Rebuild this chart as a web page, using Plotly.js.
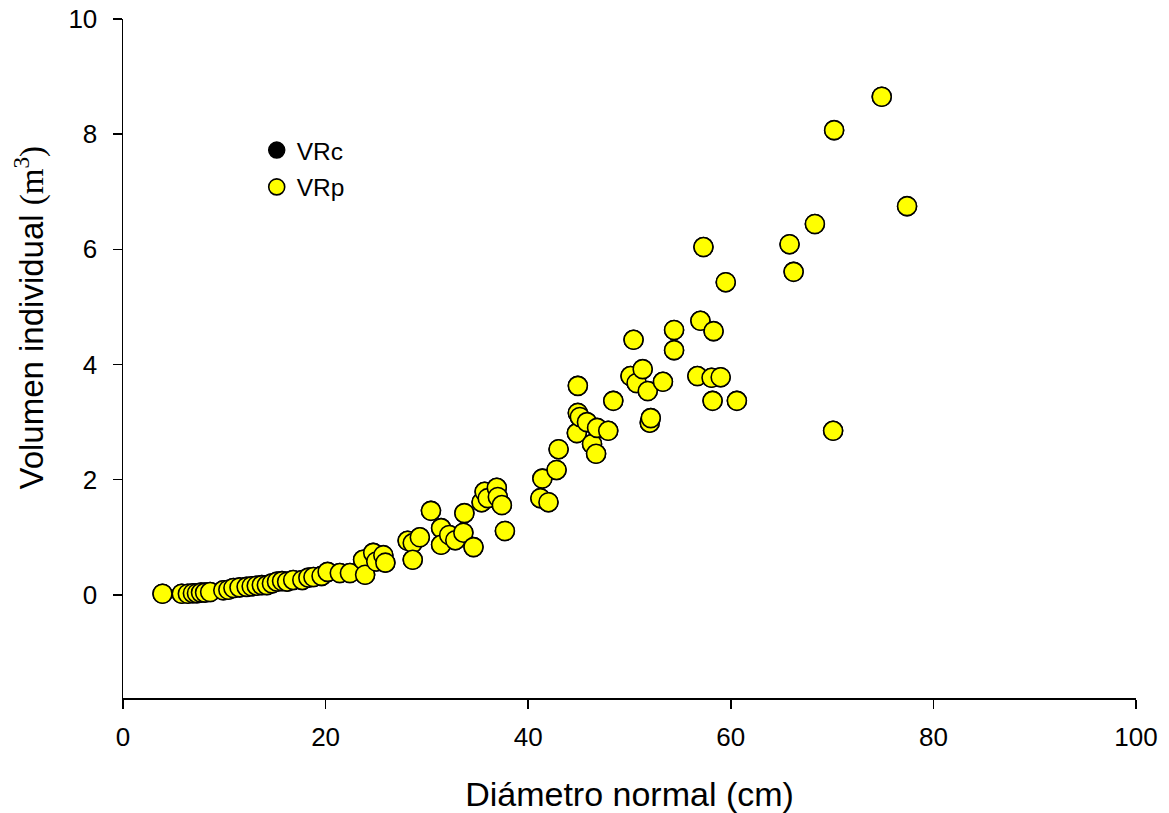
<!DOCTYPE html>
<html>
<head>
<meta charset="utf-8">
<script src="https://cdn.plot.ly/plotly-3.0.1.min.js"></script>
<style>
  html, body { margin: 0; padding: 0; background: #ffffff; }
  #chart { width: 1169px; height: 813px; }
</style>
</head>
<body>
<div id="chart"></div>
<script>
// Diámetro normal (cm) of each tree
const diametro = [
  3.9, 5.8, 6.4, 6.9, 7.3, 7.7, 8.1, 8.6, 9.9, 10.4,
  10.9, 11.5, 12.2, 12.7, 13.2, 13.7, 14.2, 14.7, 15.2, 15.7,
  16.2, 16.8, 17.7, 18.3, 18.8, 19.6, 20.2, 21.4, 22.4, 23.7,
  23.9, 24.7, 25.0, 25.7, 25.9, 28.1, 28.6, 29.3, 28.6, 30.4,
  31.4, 31.4, 32.2, 32.8, 33.6, 33.7, 34.6, 35.4, 35.7, 36.0,
  36.9, 37.0, 37.4, 37.7, 41.2, 41.4, 42.0, 42.8, 43.0, 44.8,
  44.9, 44.9, 45.1, 45.8, 46.3, 46.7, 46.8, 47.9, 48.4, 50.1,
  50.4, 50.7, 51.3, 51.8, 52.0, 52.1, 53.3, 54.4, 54.4, 56.7,
  57.0, 57.3, 58.1, 58.2, 58.3, 59.0, 59.5, 60.6, 65.8, 66.2,
  68.3, 70.1, 70.2, 74.9, 77.4
];

// VRp: volumen individual (m³)
const vrp = [
  0.02, 0.02, 0.02, 0.03, 0.03, 0.04, 0.04, 0.05, 0.08, 0.09,
  0.12, 0.13, 0.14, 0.15, 0.16, 0.17, 0.17, 0.20, 0.23, 0.24,
  0.23, 0.26, 0.26, 0.30, 0.31, 0.33, 0.40, 0.38, 0.38, 0.61,
  0.35, 0.73, 0.58, 0.69, 0.56, 0.94, 0.90, 1.00, 0.61, 1.46,
  1.16, 0.87, 1.04, 0.95, 1.08, 1.42, 0.83, 1.61, 1.79, 1.68,
  1.86, 1.70, 1.56, 1.11, 1.68, 2.02, 1.61, 2.17, 2.53, 2.81,
  3.63, 3.16, 3.09, 3.00, 2.62, 2.45, 2.90, 2.85, 3.37, 3.80,
  4.43, 3.68, 3.92, 3.54, 2.99, 3.07, 3.70, 4.60, 4.25, 3.80,
  4.76, 6.04, 3.77, 3.37, 4.58, 3.78, 5.43, 3.37, 6.09, 5.61,
  6.44, 2.85, 8.07, 8.65, 6.75
];

// VRc: volumen individual (m³), lies under the VRp markers
const vrc = [
  0.02, 0.02, 0.02, 0.03, 0.03, 0.04, 0.04, 0.05, 0.08, 0.09,
  0.12, 0.13, 0.14, 0.15, 0.16, 0.17, 0.17, 0.20, 0.23, 0.24,
  0.23, 0.26, 0.26, 0.30, 0.31, 0.33, 0.40, 0.38, 0.38, 0.61,
  0.35, 0.73, 0.58, 0.69, 0.56, 0.94, 0.90, 1.00, 0.61, 1.46,
  1.16, 0.87, 1.04, 0.95, 1.08, 1.42, 0.83, 1.61, 1.79, 1.68,
  1.86, 1.70, 1.56, 1.11, 1.68, 2.02, 1.61, 2.17, 2.53, 2.81,
  3.63, 3.16, 3.09, 3.00, 2.62, 2.45, 2.90, 2.85, 3.37, 3.80,
  4.43, 3.68, 3.92, 3.54, 2.99, 3.07, 3.70, 4.60, 4.25, 3.80,
  4.76, 6.04, 3.77, 3.37, 4.58, 3.78, 5.43, 3.37, 6.09, 5.61,
  6.44, 2.85, 8.07, 8.65, 6.75
];

const xTicks = [0, 20, 40, 60, 80, 100];
const yTicks = [0, 2, 4, 6, 8, 10];

const sans = 'Arial, "Liberation Sans", sans-serif';

const traces = [
  {
    type: 'scatter', mode: 'markers', name: 'VRc', legendgroup: 'c',
    x: diametro, y: vrc,
    marker: { color: '#000000', size: 19, line: { color: '#000000', width: 1.5 } }
  },
  {
    type: 'scatter', mode: 'markers', name: 'VRp', legendgroup: 'p',
    x: diametro, y: vrp,
    marker: { color: '#ffff00', size: 19, line: { color: '#000000', width: 1.6 } }
  }
];

const layout = {
  width: 1169, height: 813,
  margin: { l: 123, r: 33, t: 19, b: 115 },
  paper_bgcolor: '#ffffff', plot_bgcolor: '#ffffff',
  font: { family: sans, color: '#000000', size: 26 },
  showlegend: true,
  legend: {
    x: 0.132, y: 0.84, xanchor: 'left', yanchor: 'top',
    bgcolor: 'rgba(0,0,0,0)', font: { family: sans, size: 24.5 },
    traceorder: 'grouped', tracegroupgap: 2, itemsizing: 'trace'
  },
  xaxis: {
    range: [0, 100], tickvals: xTicks, ticktext: xTicks.map(String),
    showgrid: false, zeroline: false, showline: true, linecolor: '#000000', linewidth: 1.5,
    ticks: 'outside', ticklen: 9, tickwidth: 1.5, tickcolor: '#000000',
    tickfont: { family: sans, size: 26 }, ticklabelstandoff: 6,
    title: { text: 'Diámetro normal (cm)', font: { family: sans, size: 34 }, standoff: 32 }
  },
  yaxis: {
    range: [-1.79, 10], tickvals: yTicks, ticktext: yTicks.map(String),
    showgrid: false, zeroline: false, showline: true, linecolor: '#000000', linewidth: 1.5,
    ticks: 'outside', ticklen: 9, tickwidth: 1.5, tickcolor: '#000000',
    tickfont: { family: sans, size: 26 }, ticklabelstandoff: 10
  },
  annotations: [
    {
      xref: 'paper', yref: 'paper', x: -0.092, y: 0.56,
      xanchor: 'center', yanchor: 'middle', textangle: -90, showarrow: false,
      text: 'Volumen individual <span style="font-family:\'Liberation Serif\', \'Times New Roman\', serif">(m<sup>3</sup>)</span>',
      font: { family: sans, size: 33, color: '#000000' }
    }
  ]
};

Plotly.newPlot('chart', traces, layout, { displayModeBar: false, staticPlot: true });
</script>
</body>
</html>
